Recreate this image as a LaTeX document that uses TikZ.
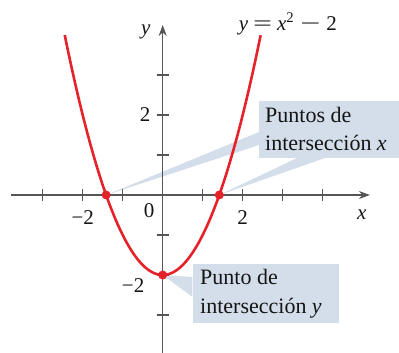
\documentclass[tikz,border=0pt]{standalone}
\usepackage{fontspec}
\usepackage{graphicx}
\setmainfont{Liberation Serif}
\usetikzlibrary{arrows.meta}
\definecolor{curvered}{HTML}{E52129}
\definecolor{calloutblue}{HTML}{D3DEEA}
\definecolor{axisgray}{HTML}{555555}
\definecolor{txt}{HTML}{151515}
\begin{document}
\begin{tikzpicture}[x=40pt,y=40pt,
  axis/.style={axisgray, line width=1.1pt},
  tickmark/.style={axisgray, line width=1.1pt},
  numlabel/.style={font=\fontsize{21}{24}\selectfont, text=txt, inner sep=0pt},
  callout/.style={fill=calloutblue, draw=none},
  boxtext/.style={font=\fontsize{22}{28}\selectfont, inner sep=0pt, anchor=base west, text=txt},
  ptdot/.style={circle, fill=curvered, inner sep=0pt, minimum size=9pt}]
\useasboundingbox (-4.0675,-3.95) rectangle (5.9075,4.875);

% callout boxes
\node[callout, minimum width=140pt, minimum height=57pt, inner sep=0pt, anchor=north west] (boxx) at (2.4075,2.35) {};
\node[callout, minimum width=146.5pt, minimum height=59pt, inner sep=0pt, anchor=north west] (boxy) at (0.745,-1.725) {};

% intersection points (positions)
\coordinate (ptL) at (-1.41421,0);
\coordinate (ptR) at (1.41421,0);
\coordinate (ptV) at (0,-2);

% wedge bases
\coordinate (wLa) at (2.4075,1.575);
\coordinate (wLb) at (2.4075,1.25);
\coordinate (wRa) at (3.36,0.925);
\coordinate (wRb) at (4.06,0.925);
\coordinate (wVa) at (0.745,-2.05);
\coordinate (wVb) at (0.745,-2.55);

\fill[calloutblue] (ptL) -- (wLa) -- (wLb) -- cycle;
\fill[calloutblue] (ptR) -- (wRa) -- (wRb) -- cycle;
\fill[calloutblue] (ptV) -- (wVa) -- (wVb) -- cycle;

% axes
\coordinate (xs) at (-3.8,0);
\coordinate (xe) at (5.18,0);
\coordinate (ys) at (0,-3.95);
\coordinate (ye) at (0,4.25);
\draw[axis, -{Stealth[length=11pt,width=8pt]}] (xs) -- (xe);
\draw[axis, -{Stealth[length=11pt,width=8pt]}] (ys) -- (ye);
\foreach \t in {-3,-2,-1,1,2,3,4} \draw[tickmark] (\t,-0.15) -- (\t,0.15);
\foreach \t in {-3,-2,-1,1,2,3} \draw[tickmark] (-0.15,\t) -- (0.15,\t);

% labels
\node[numlabel] (lxm2) at (-2.0,-0.575) {−2};
\node[numlabel] (lx2) at (2.0,-0.575) {2};
\node[numlabel] (l0) at (-0.34,-0.4) {0};
\node[numlabel, font=\fontsize{21}{24}\selectfont\itshape] (lx) at (4.98,-0.5) {x};
\node[numlabel, font=\fontsize{21}{24}\selectfont\itshape] (ly) at (-0.42,4.075) {y};
\node[numlabel] (ly2) at (-0.44,2.0) {2};
\node[numlabel] (lym2) at (-0.74,-2.275) {−2};
\node[numlabel] (eq) at (3.13,4.275) {\textit{y}\hspace{5pt}\scalebox{1.6}[1]{=}\hspace{5pt}\textit{x}\textsuperscript{2}\hspace{6pt}\scalebox{1.7}[1]{−}\hspace{6pt}2};

% curve
\draw[curvered, line width=2.6pt] plot[domain=-2.449:2.449, samples=120, smooth] (\x,{\x*\x-2});
\node[ptdot] (dL) at (ptL) {};
\node[ptdot] (dR) at (ptR) {};
\node[ptdot] (dV) at (ptV) {};

% box texts
\node[boxtext] (tx1) at (2.5575,1.8075) {Puntos de};
\node[boxtext] (tx2) at (2.5575,1.1075) {intersección \textit{x}};
\node[boxtext] (ty1) at (0.9325,-2.25) {Punto de};
\node[boxtext] (ty2) at (0.9325,-2.9575) {intersección \textit{y}};
\end{tikzpicture}
\end{document}
